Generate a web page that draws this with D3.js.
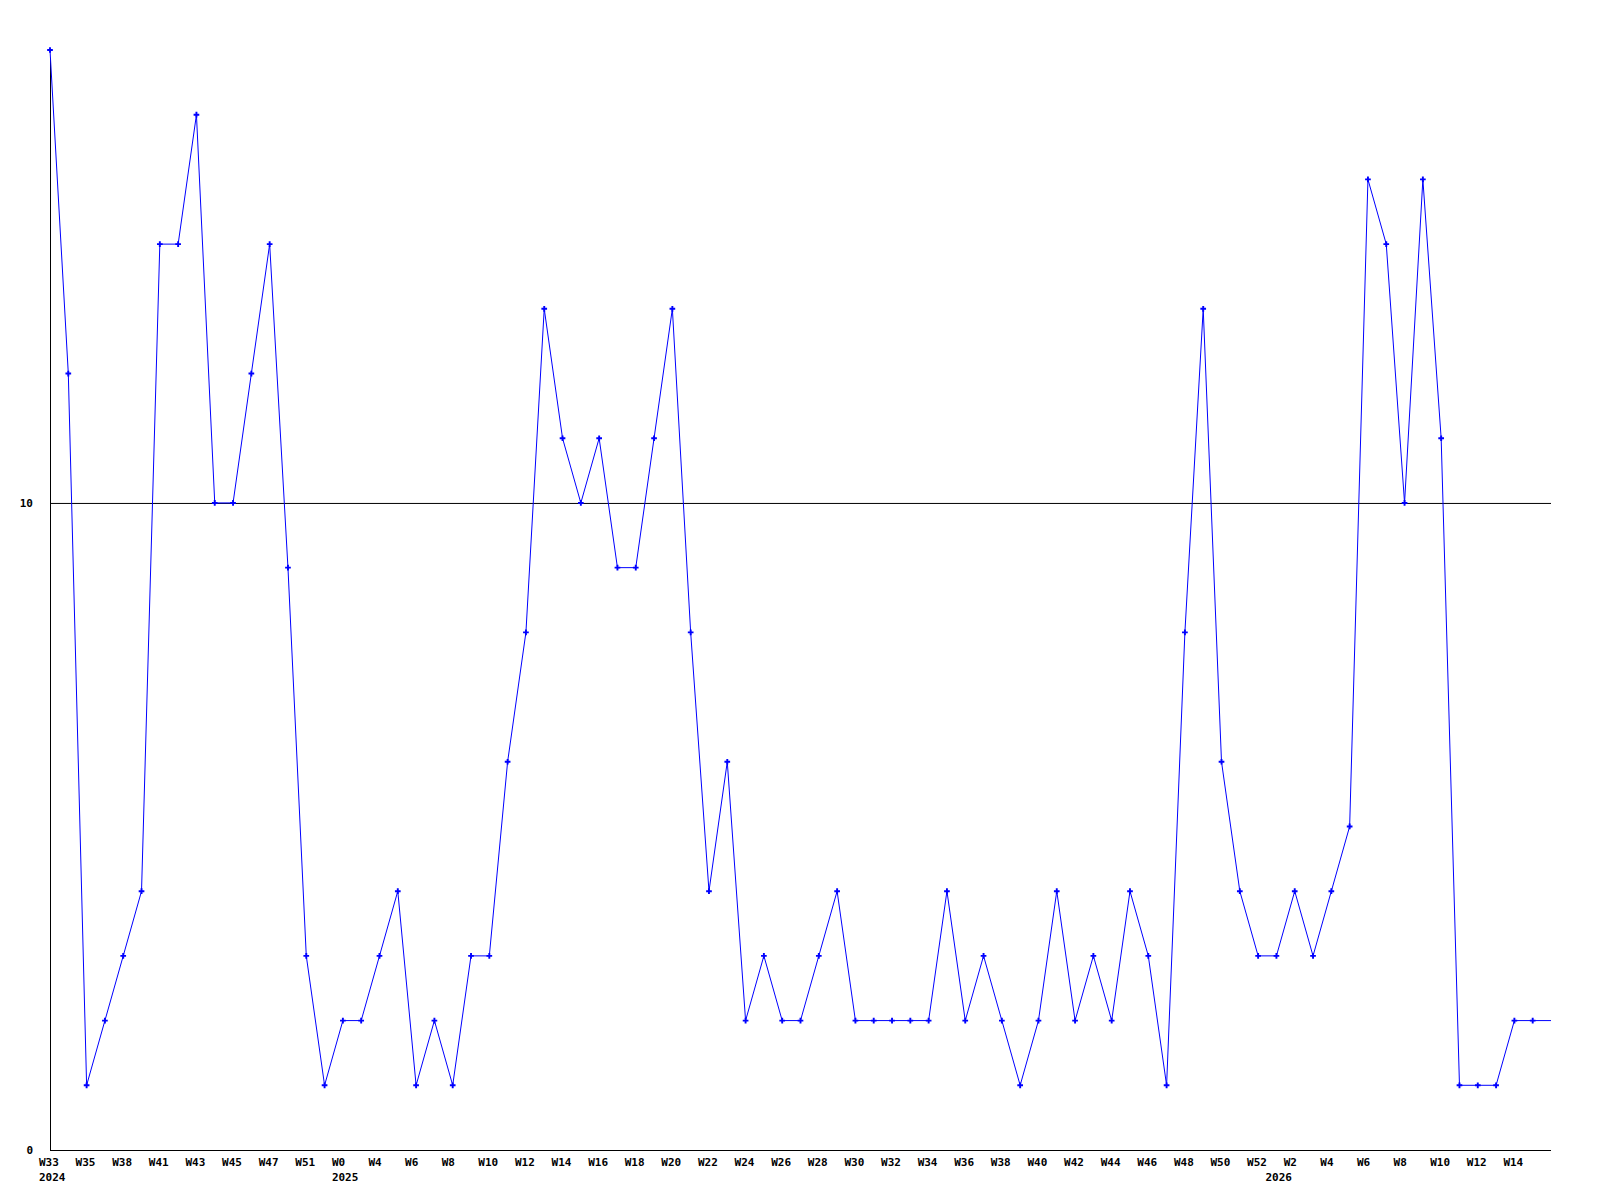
<!DOCTYPE html>
<html>
<head>
<meta charset="utf-8">
<script src="https://cdn.jsdelivr.net/npm/d3@7"></script>
<style>
  body { margin: 0; background: #fff; }
  text { font-family: "DejaVu Sans Mono", monospace; font-weight: bold; font-size: 11px; fill: #000; }
</style>
</head>
<body>
<div id="chart"></div>
<script>
// week number of each point (odd ones are not printed on the axis)
const weeks = [33, 34, 35, 37, 38, 40, 41, 42, 43, 44, 45, 46, 47, 49, 51, 52,
  0, 2, 4, 5, 6, 7, 8, 9, 10, 11, 12, 13, 14, 15, 16, 17, 18, 19, 20, 21, 22, 23,
  24, 25, 26, 27, 28, 29, 30, 31, 32, 33, 34, 35, 36, 37, 38, 39, 40, 41, 42, 43,
  44, 45, 46, 47, 48, 49, 50, 51, 52,
  1, 2, 3, 4, 5, 6, 7, 8, 9, 10, 11, 12, 13, 14, 15];
const years = [].concat(
  Array(16).fill(2024),
  Array(51).fill(2025),
  Array(15).fill(2026));
const values = [17, 12, 1, 2, 3, 4, 14, 14, 16, 10, 10, 12, 14, 9, 3, 1,
  2, 2, 3, 4, 1, 2, 1, 3, 3, 6, 8, 13, 11, 10, 11, 9, 9, 11, 13, 8,
  4, 6, 2, 3, 2, 2, 3, 4, 2, 2, 2, 2, 2, 4, 2, 3, 2, 1, 2, 4,
  2, 3, 2, 4, 3, 1, 8, 13, 6, 4, 3,
  3, 4, 3, 4, 5, 15, 14, 10, 15, 11, 1, 1, 1, 2, 2];
const yTicks = [0, 10];

const width = 1600, height = 1200;
const svg = d3.select("#chart").append("svg")
    .attr("width", width)
    .attr("height", height);

const x = d3.scaleLinear().domain([0, values.length]).range([50, 1551]);
const y = d3.scaleLinear().domain([0, 17]).range([1150, 50]);

// grid line at 10 and axes
svg.selectAll(".grid")
    .data(yTicks.filter(d => d > 0))
    .enter().append("line")
    .attr("x1", x(0)).attr("x2", x(values.length))
    .attr("y1", d => y(d) + 0.5).attr("y2", d => y(d) + 0.5)
    .attr("stroke", "#000").attr("stroke-width", 1);

svg.append("line")
    .attr("x1", x(0) + 0.5).attr("x2", x(0) + 0.5)
    .attr("y1", y(16.88)).attr("y2", y(0))
    .attr("stroke", "#000");
svg.append("line")
    .attr("x1", x(0)).attr("x2", x(values.length))
    .attr("y1", y(0) + 0.5).attr("y2", y(0) + 0.5)
    .attr("stroke", "#000");

svg.selectAll(".ylab")
    .data(yTicks)
    .enter().append("text")
    .attr("x", 33)
    .attr("y", d => y(d) + 4)
    .attr("text-anchor", "end")
    .text(d => d);

// x labels: every other point, years at the first point of each year
svg.selectAll(".xlab")
    .data(weeks.map((w, i) => ({w, i})).filter(d => d.i % 2 === 0))
    .enter().append("text")
    .attr("x", d => x(d.i) - 11)
    .attr("y", 1166)
    .text(d => "W" + d.w);

svg.selectAll(".year")
    .data(years.map((yr, i) => ({yr, i})).filter(d => d.i === 0 || years[d.i - 1] !== d.yr))
    .enter().append("text")
    .attr("x", d => x(d.i) - 11)
    .attr("y", 1181)
    .text(d => d.yr);

// line, carried on to the right edge with the last value
const pts = values.map((v, i) => [x(i), y(v)]);
pts.push([x(values.length), y(values[values.length - 1])]);
svg.append("path")
    .attr("d", d3.line()(pts))
    .attr("fill", "none")
    .attr("stroke", "#0000ff")
    .attr("stroke-width", 1);

svg.selectAll(".pt")
    .data(values)
    .enter().append("path")
    .attr("transform", (d, i) => "translate(" + x(i) + "," + y(d) + ")")
    .attr("d", d3.symbol(d3.symbolCross, 18))
    .attr("fill", "#0000ff");
</script>
</body>
</html>
